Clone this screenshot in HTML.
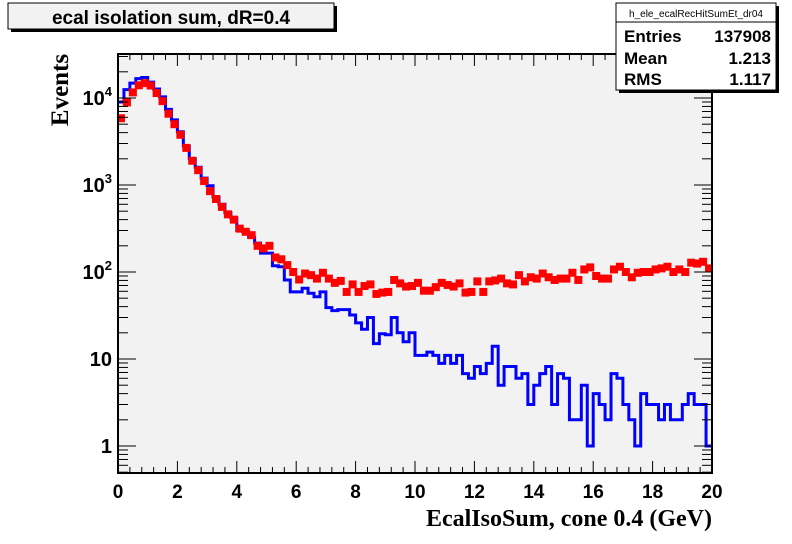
<!DOCTYPE html>
<html><head><meta charset="utf-8"><style>
body{margin:0;background:#fff;}
svg{display:block;}
</style></head><body>
<svg id="c" width="792" height="544" xmlns="http://www.w3.org/2000/svg">
<rect x="0" y="0" width="792" height="544" fill="#fff"/>
<rect x="118" y="54" width="594" height="419" fill="#f2f2f2"/>
<g id="marks"></g>
<g id="axes"></g>
<rect x="118" y="54" width="594" height="419" fill="none" stroke="#000" stroke-width="2"/>
<g>
<rect x="11" y="6" width="326" height="26" fill="#000"/>
<rect x="8" y="3" width="326" height="26" fill="#f2f2f2" stroke="#000" stroke-width="1"/>
<text x="171" y="24" text-anchor="middle" font-family="Liberation Sans, sans-serif" font-weight="bold" font-size="19">ecal isolation sum, dR=0.4</text>
</g>
<g>
<rect x="619" y="6" width="160" height="87" fill="#000"/>
<rect x="616" y="3" width="160" height="87" fill="#fff" stroke="#000" stroke-width="1"/>
<line x1="616" y1="22" x2="776" y2="22" stroke="#000"/>
<text x="696" y="17" text-anchor="middle" font-family="Liberation Sans, sans-serif" font-size="10">h_ele_ecalRecHitSumEt_dr04</text>
<g font-family="Liberation Sans, sans-serif" font-weight="bold" font-size="17">
<text x="624" y="42">Entries</text><text x="771" y="42" text-anchor="end">137908</text>
<text x="624" y="64">Mean</text><text x="771" y="64" text-anchor="end">1.213</text>
<text x="624" y="85">RMS</text><text x="771" y="85" text-anchor="end">1.117</text>
</g>
</g>
<text x="712" y="526" text-anchor="end" font-family="Liberation Serif, serif" font-weight="bold" font-size="24">EcalIsoSum, cone 0.4 (GeV)</text>
<text transform="translate(68,90) rotate(-90)" text-anchor="middle" font-family="Liberation Serif, serif" font-weight="bold" font-size="25">Events</text>
</svg>
<script>
const binEdgesMin = 0, binEdgesMax = 20;
const blueValues = [9000,12500,14800,16700,17200,15200,12700,10300,7400,5600,4100,2800,2000,1600,1200,980,730,600,480,420,300,290,250,215,165,165,118,115,81,59,59,65,57,52,59,39,36,37,37,32,26,22,30,15,19.5,19,30,20,15.8,20,11,11,12,11,8.9,11,8.9,11,6.8,6,8.2,6.8,8.9,14,5,8.2,8.2,6,6.8,3,5,6.8,8.2,3,6.8,6,2,2,5,1,4,3,2,6.8,6,3,2,1,4,3,3,2,3,2,2,3,4,3,3,1];
const redValues = [5850,8900,11600,14000,14800,13900,11400,9200,6600,5000,3780,2670,1900,1480,1110,850,690,560,460,400,315,290,265,200,187,200,147,140,120,100,82,96,92,84,98,84,75,79,59,72,59,69,72,56,58,59,81,74,68,69,75,61,61,67,75,71,68,74,58,59,78,59,78,80,84,74,72,92,78,87,84,96,87,81,84,84,98,81,107,113,90,84,84,107,115,100,87,98,100,100,107,110,115,100,107,100,128,125,131,110];
const xTicks = [0,2,4,6,8,10,12,14,16,18,20];
const yDecades = [0,1,2,3,4];
const yDecadeLabels = ["1","10","10^2","10^3","10^4"];

const X0=118,X1=712,Y0=473,Y1=54;
const xs = v => X0 + (v-binEdgesMin)/(binEdgesMax-binEdgesMin)*(X1-X0);
const ys = v => 446 - 87*Math.log10(v);
const NS="http://www.w3.org/2000/svg";
const marks=document.getElementById('marks'), axes=document.getElementById('axes');
function mk(tag,attrs,parent){const e=document.createElementNS(NS,tag);for(const k in attrs)e.setAttribute(k,attrs[k]);parent.appendChild(e);return e;}

const n=blueValues.length, bw=(binEdgesMax-binEdgesMin)/n;
let d="";
for(let i=0;i<n;i++){const xa=xs(binEdgesMin+i*bw),xb=xs(binEdgesMin+(i+1)*bw),y=Math.min(ys(blueValues[i]),Y0);
 d+=(i===0?`M${xa},${y}`:`L${xa},${y}`)+`L${xb},${y}`;}
const bl=mk('path',{d:d,fill:'none',stroke:'#0000ff','stroke-width':3},marks);



for(let i=0;i<redValues.length;i++){const cx=xs(binEdgesMin+(i+0.5)*bw),cy=ys(redValues[i]);
 const r=mk('rect',{x:cx-4,y:cy-4,width:8,height:8,fill:'#ff0000'},marks);
 
 }

for(let i=0;i<xTicks.length;i++){const x=xs(xTicks[i]);
 mk('line',{x1:x,y1:Y0,x2:x,y2:Y0-12,stroke:'#000','stroke-width':1},axes);
 mk('line',{x1:x,y1:Y1,x2:x,y2:Y1+12,stroke:'#000','stroke-width':1},axes);
 const t=mk('text',{x:x,y:498,'text-anchor':'middle','font-family':'Liberation Sans, sans-serif','font-weight':'bold','font-size':19},axes);
 t.textContent=String(xTicks[i]);
 
 
 if(i<xTicks.length-1){for(let k=1;k<5;k++){const xm=xs(xTicks[i]+(xTicks[i+1]-xTicks[i])*k/5);
  mk('line',{x1:xm,y1:Y0,x2:xm,y2:Y0-6,stroke:'#000'},axes);
  mk('line',{x1:xm,y1:Y1,x2:xm,y2:Y1+6,stroke:'#000'},axes);}}}
for(let dd=-1;dd<=4;dd++){for(let m=1;m<10;m++){const v=m*Math.pow(10,dd);const y=ys(v);if(y>Y0||y<Y1)continue;
 const L=m===1?18:10;
 mk('line',{x1:X0,y1:y,x2:X0+L,y2:y,stroke:'#000'},axes);
 mk('line',{x1:X1,y1:y,x2:X1-L,y2:y,stroke:'#000'},axes);}}
for(let i=0;i<yDecades.length;i++){const y=ys(Math.pow(10,yDecades[i]));
 const lab=yDecadeLabels[i];
 const t=mk('text',{x:112,y:y+7,'text-anchor':'end','font-family':'Liberation Sans, sans-serif','font-weight':'bold','font-size':20},axes);
 
 
 if(lab.indexOf('^')>=0){const p=lab.split('^');t.textContent=p[0];
  const s=document.createElementNS(NS,'tspan');s.setAttribute('dy','-9');s.setAttribute('font-size','13');s.textContent=p[1];t.appendChild(s);}
 else t.textContent=lab;}
</script>
</body></html>
